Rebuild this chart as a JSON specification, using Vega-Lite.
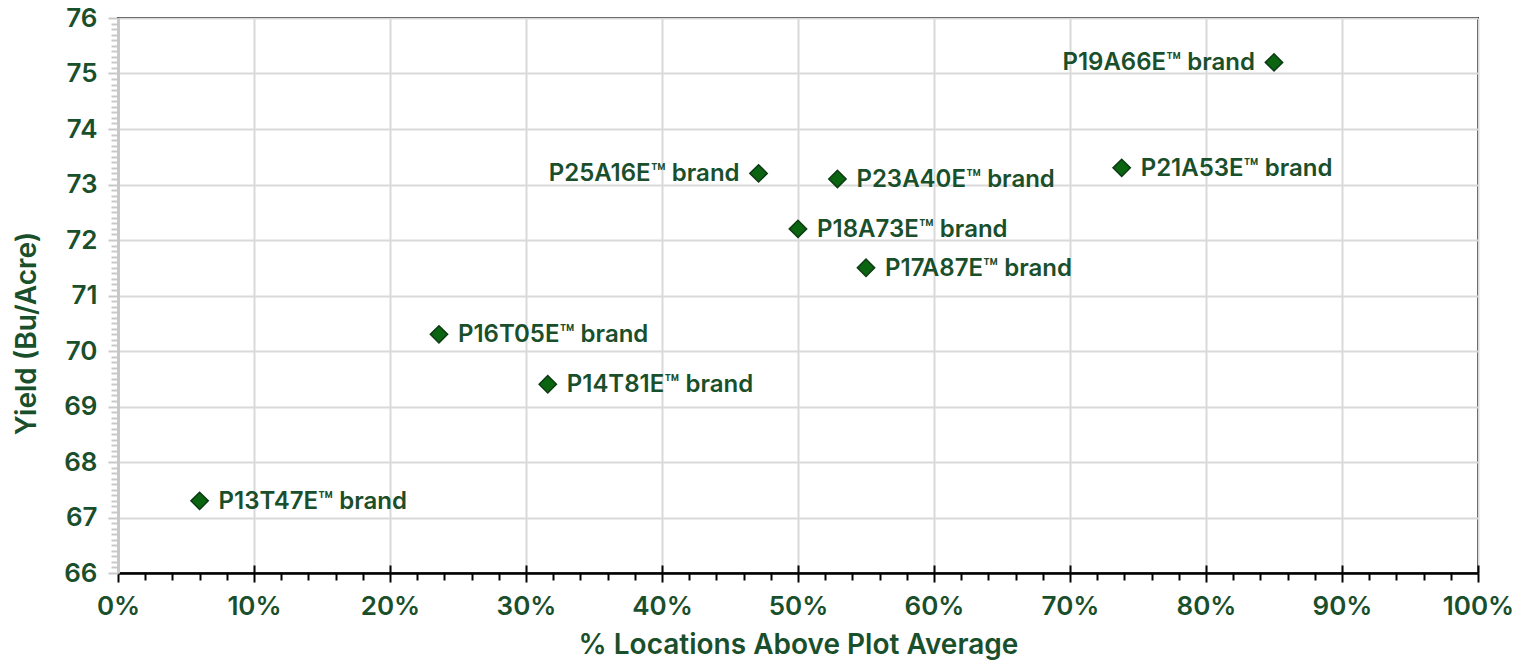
{
  "$schema": "https://vega.github.io/schema/vega-lite/v6.json",
  "width": 1360,
  "height": 555,
  "autosize": "none",
  "padding": {"left": 118, "top": 18, "right": 47, "bottom": 91},
  "background": "#ffffff",
  "config": {
    "font": "Inter",
    "view": {"stroke": "#000000", "strokeWidth": 2},
    "axis": {"labelFont": "Inter", "titleFont": "Inter"}
  },
  "data": {"values": [
    {"brand": "P13T47E™ brand", "pct": 0.06, "yield": 67.3},
    {"brand": "P16T05E™ brand", "pct": 0.236, "yield": 70.3},
    {"brand": "P14T81E™ brand", "pct": 0.316, "yield": 69.4},
    {"brand": "P25A16E™ brand", "pct": 0.471, "yield": 73.2},
    {"brand": "P18A73E™ brand", "pct": 0.50, "yield": 72.2},
    {"brand": "P23A40E™ brand", "pct": 0.529, "yield": 73.1},
    {"brand": "P17A87E™ brand", "pct": 0.55, "yield": 71.5},
    {"brand": "P21A53E™ brand", "pct": 0.738, "yield": 73.3},
    {"brand": "P19A66E™ brand", "pct": 0.85, "yield": 75.2}
  ]},
  "encoding": {
    "x": {"field": "pct", "type": "quantitative", "scale": {"domain": [0, 1], "nice": false, "zero": false}},
    "y": {"field": "yield", "type": "quantitative", "scale": {"domain": [66, 76], "nice": false, "zero": false}}
  },
  "resolve": {"axis": {"x": "independent", "y": "independent"}},
  "layer": [
    {
      "mark": {"type": "point", "shape": "diamond", "size": 300, "filled": true, "fill": "#0a6410", "stroke": "#0d3b14", "strokeWidth": 1.5, "opacity": 1},
      "encoding": {
        "x": {"field": "pct", "type": "quantitative", "scale": {"domain": [0, 1], "nice": false, "zero": false},
          "axis": {"orient": "bottom", "format": ".0%", "values": [0,0.1,0.2,0.3,0.4,0.5,0.6,0.7,0.8,0.9,1],
            "grid": true, "gridColor": "#d9d9d9", "gridWidth": 2, "labelAlign": "center", "labelFlush": false,
            "domainColor": "#000000", "domainWidth": 2.5, "tickColor": "#000000", "tickWidth": 2, "tickSize": 9,
            "labelFontSize": 26, "labelFontWeight": 600, "labelColor": "#1a4f2c", "labelPadding": 11,
            "title": "% Locations Above Plot Average", "titleFontSize": 28, "titleFontWeight": 600, "titleColor": "#1a4f2c", "titlePadding": 12}},
        "y": {"field": "yield", "type": "quantitative", "scale": {"domain": [66, 76], "nice": false, "zero": false},
          "axis": {"orient": "left", "values": [66,67,68,69,70,71,72,73,74,75,76],
            "grid": true, "gridColor": "#d9d9d9", "gridWidth": 2,
            "domainColor": "#c8c8c8", "domainWidth": 3, "tickColor": "#c8c8c8", "tickWidth": 2, "tickSize": 10,
            "labelFontSize": 26, "labelFontWeight": 600, "labelColor": "#1a4f2c", "labelPadding": 11,
            "title": "Yield (Bu/Acre)", "titleFontSize": 28, "titleFontWeight": 600, "titleColor": "#1a4f2c", "titlePadding": 22, "titleY": 315}}
      }
    },
    {
      "mark": {"type": "text", "align": "left", "baseline": "middle", "dx": 19, "dy": 1, "fontSize": 24, "fontWeight": 600, "color": "#1a4f2c"},
      "transform": [{"filter": "datum.brand != 'P25A16E™ brand' && datum.brand != 'P19A66E™ brand'"}],
      "encoding": {
        "text": {"field": "brand"},
        "x": {"field": "pct", "type": "quantitative",
          "axis": {"orient": "bottom", "values": [0.02,0.04,0.06,0.08,0.12,0.14,0.16,0.18,0.22,0.24,0.26,0.28,0.32,0.34,0.36,0.38,0.42,0.44,0.46,0.48,0.52,0.54,0.56,0.58,0.62,0.64,0.66,0.68,0.72,0.74,0.76,0.78,0.82,0.84,0.86,0.88,0.92,0.94,0.96,0.98],
            "labels": false, "grid": false, "domain": false, "title": null, "tickColor": "#000000", "tickWidth": 2, "tickSize": 7}},
        "y": {"field": "yield", "type": "quantitative",
          "axis": {"orient": "left", "values": [66.1,66.2,66.3,66.4,66.5,66.6,66.7,66.8,66.9,67.1,67.2,67.3,67.4,67.5,67.6,67.7,67.8,67.9,68.1,68.2,68.3,68.4,68.5,68.6,68.7,68.8,68.9,69.1,69.2,69.3,69.4,69.5,69.6,69.7,69.8,69.9,70.1,70.2,70.3,70.4,70.5,70.6,70.7,70.8,70.9,71.1,71.2,71.3,71.4,71.5,71.6,71.7,71.8,71.9,72.1,72.2,72.3,72.4,72.5,72.6,72.7,72.8,72.9,73.1,73.2,73.3,73.4,73.5,73.6,73.7,73.8,73.9,74.1,74.2,74.3,74.4,74.5,74.6,74.7,74.8,74.9,75.1,75.2,75.3,75.4,75.5,75.6,75.7,75.8,75.9],
            "labels": false, "grid": false, "domain": false, "title": null, "tickColor": "#c8c8c8", "tickWidth": 2, "tickSize": 7}}
      }
    },
    {
      "mark": {"type": "text", "align": "right", "baseline": "middle", "dx": -19, "dy": 1, "fontSize": 24, "fontWeight": 600, "color": "#1a4f2c"},
      "transform": [{"filter": "datum.brand == 'P25A16E™ brand' || datum.brand == 'P19A66E™ brand'"}],
      "encoding": {
        "text": {"field": "brand"},
        "x": {"field": "pct", "type": "quantitative",
          "axis": {"orient": "top", "offset": -555, "values": [0,0.1,0.2,0.3,0.4,0.5,0.6,0.7,0.8,0.9,1],
            "labels": false, "grid": false, "domain": false, "title": null, "tickColor": "#000000", "tickWidth": 2, "tickSize": 8}},
        "y": {"field": "yield", "type": "quantitative", "axis": null}
      }
    }
  ]
}
